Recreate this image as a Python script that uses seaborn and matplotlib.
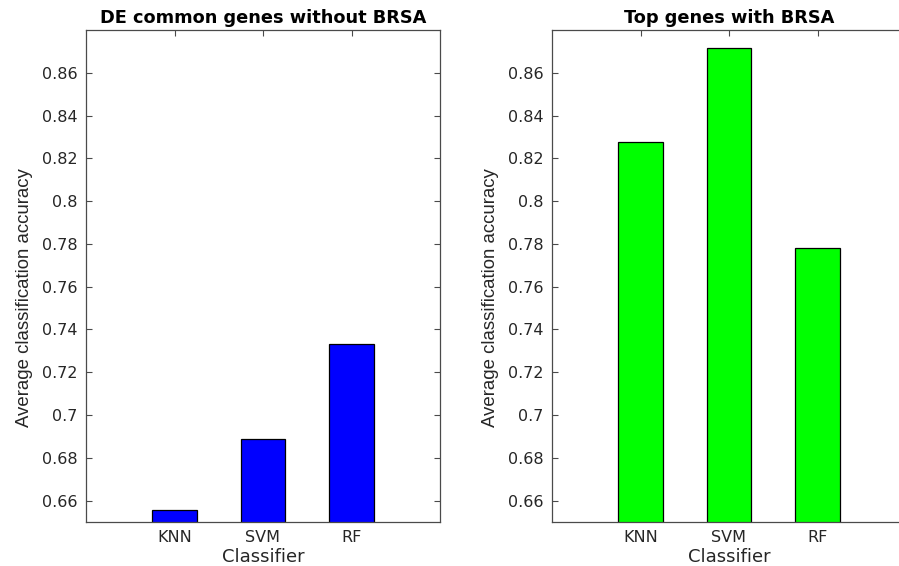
import matplotlib
matplotlib.use("Agg")
import matplotlib.pyplot as plt
import seaborn as sns
import pandas as pd

classifiers = ["KNN", "SVM", "RF"]
acc_without_brsa = [0.6558, 0.6888, 0.7333]
acc_with_brsa = [0.8276, 0.8718, 0.7780]
titles = ["DE common genes without BRSA", "Top genes with BRSA"]
bar_colors = ["#0000ff", "#00ff00"]
y_ticks = [0.66, 0.68, 0.70, 0.72, 0.74, 0.76, 0.78, 0.80, 0.82, 0.84, 0.86]
y_tick_labels = ["0.66", "0.68", "0.7", "0.72", "0.74", "0.76", "0.78", "0.8", "0.82", "0.84", "0.86"]

sns.set_theme(style="ticks")
plt.rcParams["font.family"] = ["DejaVu Sans"]

fig = plt.figure(figsize=(8.99, 5.66), dpi=100)
ax_w = 354 / 899
ax_h = (522 - 30) / 566
ax_b = 1 - 522 / 566
axes = [fig.add_axes([86 / 899, ax_b, ax_w, ax_h]),
        fig.add_axes([552 / 899, ax_b, ax_w, ax_h])]

spine_col = "#4a4a4a"
text_col = "#262626"
for ax, vals, title, col in zip(axes, [acc_without_brsa, acc_with_brsa], titles, bar_colors):
    df = pd.DataFrame({"Classifier": classifiers, "Accuracy": vals})
    sns.barplot(data=df, x="Classifier", y="Accuracy", order=classifiers, color=col,
                width=0.5, edgecolor="black", linewidth=0.9, saturation=1, ax=ax)
    ax.set_xlim(-1, 3)
    ax.set_ylim(0.65, 0.88)
    ax.set_yticks(y_ticks)
    ax.set_yticklabels(y_tick_labels)
    ax.tick_params(direction="in", length=4, width=0.8, colors=spine_col,
                   labelcolor=text_col, labelsize=11.5, top=True, right=True, pad=6)
    for s in ax.spines.values():
        s.set_visible(True)
        s.set_color(spine_col)
        s.set_linewidth(0.9)
    ax.set_title(title, fontsize=12.8, fontweight="bold", color="black", pad=5)
    ax.set_xlabel("Classifier", fontsize=13, color=text_col, labelpad=2)
    ax.set_ylabel("Average classification accuracy", fontsize=13.4, color=text_col,
                  family=["Liberation Sans", "DejaVu Sans"])
    ax.yaxis.set_label_coords(-0.15, 0.457)

fig.savefig("out.png", dpi=100)
